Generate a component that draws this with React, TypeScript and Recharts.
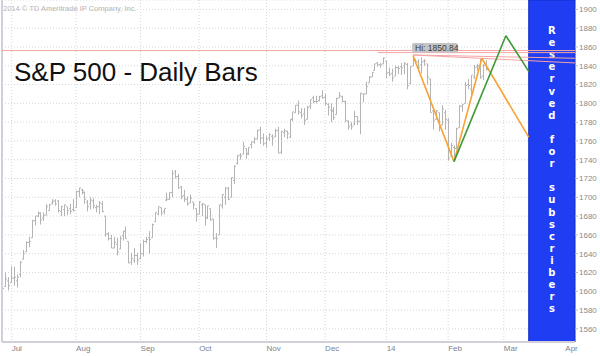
import {
  ComposedChart,
  Bar,
  XAxis,
  YAxis,
  CartesianGrid,
  ReferenceLine,
  ReferenceArea,
  ReferenceDot,
} from "recharts";

// daily sessions, first bar = 2013-06-26 (session index -3); session 0 = 2013-07-01
const firstSession = -3;

const opens = [
  1592, 1605, 1611,
  // Jul
  1609, 1614, 1611, 1618, 1634, 1642, 1652, 1657, 1675, 1680, 1683, 1678, 1681, 1686, 1694, 1696, 1696, 1685, 1687, 1690, 1688, 1687,
  // Aug
  1689, 1706, 1708, 1705, 1695, 1693, 1696, 1689, 1690, 1693, 1680, 1661, 1656, 1646, 1650, 1645, 1659, 1664, 1653, 1631, 1633, 1638,
  // Sep
  1635, 1640, 1653, 1657, 1657, 1674, 1682, 1689, 1685, 1697, 1698, 1705, 1727, 1722, 1711, 1702, 1698, 1694, 1695, 1688,
  // Oct
  1682, 1692, 1692, 1678, 1688, 1677, 1657, 1660, 1691, 1700, 1709, 1700, 1718, 1736, 1745, 1746, 1752, 1747, 1756, 1759, 1762, 1772, 1763,
  // Nov
  1758, 1763, 1765, 1765, 1771, 1748, 1769, 1770, 1764, 1783, 1790, 1798, 1790, 1789, 1783, 1797, 1806, 1802, 1803, 1808,
  // Dec
  1806, 1799, 1793, 1792, 1788, 1806, 1807, 1802, 1781, 1777, 1777, 1786, 1781, 1810, 1810, 1822, 1828, 1835, 1843, 1841, 1842,
  // Jan
  1845, 1833, 1832, 1829, 1838, 1839, 1840, 1841, 1821, 1840, 1847, 1844, 1841, 1845, 1842, 1826, 1792, 1783, 1790, 1777, 1790,
  // Feb
  1782, 1744, 1753, 1752, 1774, 1797, 1800, 1820, 1815, 1828, 1839, 1838, 1829, 1841,
];

const highs = [
  1605, 1620, 1615,
  1627, 1626, 1618, 1632, 1644, 1653, 1658, 1676, 1680, 1685, 1684, 1684, 1693, 1693, 1698, 1698, 1697, 1691, 1692, 1690, 1693, 1698,
  1707, 1710, 1709, 1706, 1697, 1700, 1699, 1692, 1696, 1696, 1680, 1663, 1660, 1658, 1657, 1659, 1664, 1669, 1653, 1641, 1646, 1641,
  1651, 1655, 1658, 1664, 1672, 1684, 1690, 1689, 1688, 1705, 1705, 1729, 1729, 1725, 1712, 1708, 1701, 1703, 1695, 1688,
  1696, 1694, 1692, 1691, 1688, 1677, 1662, 1692, 1703, 1711, 1711, 1721, 1734, 1745, 1747, 1759, 1752, 1753, 1759, 1764, 1772, 1775, 1768,
  1765, 1768, 1767, 1773, 1775, 1771, 1773, 1771, 1783, 1791, 1798, 1803, 1795, 1795, 1797, 1804, 1808, 1808, 1808, 1814,
  1810, 1800, 1800, 1796, 1806, 1812, 1808, 1803, 1782, 1780, 1792, 1786, 1811, 1810, 1823, 1829, 1833, 1842, 1844, 1843, 1849,
  1845, 1838, 1837, 1840, 1840, 1843, 1844, 1843, 1839, 1850.84, 1847, 1847, 1849, 1847, 1842, 1826, 1793, 1793, 1790, 1798, 1793,
  1784, 1758, 1755, 1774, 1798, 1799, 1823, 1826, 1830, 1841, 1842, 1847, 1842, 1846,
];

const lows = [
  1592, 1605, 1601,
  1609, 1606, 1604, 1615, 1634, 1642, 1647, 1657, 1670, 1679, 1671, 1675, 1681, 1686, 1692, 1691, 1684, 1680, 1680, 1681, 1682, 1685,
  1689, 1700, 1703, 1693, 1685, 1687, 1688, 1684, 1682, 1684, 1658, 1654, 1646, 1646, 1638, 1645, 1654, 1656, 1630, 1628, 1630, 1628,
  1634, 1637, 1651, 1640, 1657, 1674, 1681, 1681, 1682, 1696, 1697, 1700, 1720, 1709, 1698, 1695, 1691, 1694, 1687, 1674,
  1682, 1680, 1670, 1677, 1675, 1655, 1646, 1660, 1688, 1692, 1697, 1700, 1714, 1735, 1740, 1746, 1741, 1745, 1752, 1757, 1762, 1757, 1755,
  1753, 1760, 1755, 1764, 1747, 1746, 1764, 1762, 1763, 1781, 1790, 1788, 1784, 1777, 1783, 1794, 1800, 1800, 1802, 1805,
  1798, 1787, 1780, 1782, 1788, 1806, 1801, 1780, 1772, 1772, 1777, 1777, 1767, 1801, 1810, 1822, 1828, 1835, 1839, 1838, 1842,
  1827, 1829, 1823, 1829, 1831, 1830, 1831, 1815, 1821, 1840, 1842, 1835, 1832, 1840, 1820, 1790, 1772, 1783, 1770, 1777, 1772,
  1739, 1744, 1738, 1752, 1774, 1791, 1800, 1815, 1809, 1826, 1835, 1826, 1825, 1835,
];

const closes = [
  1603, 1613, 1606,
  1614, 1615, 1615, 1631, 1640, 1652, 1653, 1675, 1680, 1683, 1676, 1681, 1690, 1692, 1696, 1693, 1686, 1690, 1692, 1686, 1685, 1686,
  1706, 1710, 1707, 1698, 1690, 1697, 1691, 1690, 1694, 1685, 1661, 1656, 1646, 1652, 1642, 1656, 1664, 1656, 1630, 1635, 1638, 1633,
  1640, 1653, 1655, 1655, 1671, 1684, 1690, 1683, 1688, 1698, 1705, 1725, 1722, 1710, 1701, 1698, 1693, 1699, 1692, 1682,
  1695, 1693, 1678, 1691, 1676, 1656, 1656, 1692, 1703, 1710, 1698, 1721, 1733, 1744, 1744, 1754, 1746, 1753, 1759, 1762, 1771, 1763, 1757,
  1762, 1767, 1763, 1771, 1747, 1770, 1771, 1768, 1783, 1791, 1798, 1791, 1787, 1782, 1796, 1804, 1802, 1802, 1807, 1806,
  1800, 1796, 1792, 1785, 1805, 1808, 1802, 1782, 1775, 1775, 1786, 1781, 1811, 1810, 1818, 1828, 1833, 1842, 1841, 1841, 1848,
  1832, 1831, 1827, 1838, 1837, 1838, 1842, 1819, 1839, 1848, 1845, 1838, 1844, 1845, 1828, 1790, 1782, 1792, 1774, 1794, 1783,
  1742, 1755, 1752, 1773, 1797, 1799, 1819, 1819, 1830, 1838, 1840, 1828, 1840, 1836,
];

// first session of each month (trading-day axis)
const monthTicks = [0, 22, 44, 64, 87, 107, 128, 149, 168, 189];
const monthLabels = ["Jul", "Aug", "Sep", "Oct", "Nov", "Dec", "14", "Feb", "Mar", "Apr"];
const priceTicks = [1560, 1580, 1600, 1620, 1640, 1660, 1680, 1700, 1720, 1740, 1760, 1780, 1800, 1820, 1840, 1860, 1880, 1900];

const hiPoint = { x: 137, y: 1850.84 };
const orangePath = [
  { x: 137, y: 1850.84 },
  { x: 151, y: 1738 },
  { x: 160.5, y: 1848 },
  { x: 176.5, y: 1764 },
];
const greenPath = [
  { x: 151, y: 1738 },
  { x: 168.7, y: 1872 },
  { x: 176.5, y: 1834 },
];
const resistance = [
  [{ x: -3.3, y: 1856.2 }, { x: 192.3, y: 1856.2 }],
  [{ x: 125, y: 1854 }, { x: 192.3, y: 1854 }],
  [{ x: 137, y: 1851.5 }, { x: 192.3, y: 1848 }],
  [{ x: 137, y: 1851.5 }, { x: 192.3, y: 1843 }],
];
const reservedZone = { from: 176.5, to: 192.3 };
const reservedText = "Reserved for subscribers";

const bars = opens.map((open, i) => ({
  x: firstSession + i,
  range: [lows[i], highs[i]],
  open,
  close: closes[i],
}));

const toSegments = (path: { x: number; y: number }[]) =>
  path.slice(1).map((p, i) => [path[i], p]);

function OhlcBar(props: any) {
  const { x, y, width, height, payload } = props;
  if (!payload) return null;
  const cx = Math.round(x + width / 2) + 0.5;
  const top = Math.min(y, y + height);
  const bottom = Math.max(y, y + height);
  const [low, high] = payload.range;
  const span = high - low || 1;
  const yOpen = top + ((high - payload.open) / span) * (bottom - top);
  const yClose = top + ((high - payload.close) / span) * (bottom - top);
  return (
    <g stroke="#b4b4b4" strokeWidth={1}>
      <line x1={cx} x2={cx} y1={top} y2={bottom} />
      <line x1={cx - 1.5} x2={cx} y1={yOpen} y2={yOpen} />
      <line x1={cx} x2={cx + 1.5} y1={yClose} y2={yClose} />
    </g>
  );
}

function MonthTick(props: any) {
  const { x, payload } = props;
  const i = monthTicks.indexOf(payload.value);
  return (
    <text x={x} y={351} fontSize={8} fill="#7c8290" fontFamily="Liberation Sans, Arial, sans-serif">
      {monthLabels[i]}
    </text>
  );
}

function ReservedLabel(props: any) {
  const vb = props.viewBox;
  if (!vb) return null;
  const cx = vb.x + vb.width / 2;
  return (
    <text
      fill="#ffffff"
      fontSize={10}
      fontWeight="bold"
      fontFamily="DejaVu Sans, Verdana, sans-serif"
      textAnchor="middle"
      dominantBaseline="central"
    >
      {reservedText.split("").map((ch, i) => (
        <tspan key={i} x={cx} y={vb.y + 30 + i * 12.1}>
          {ch}
        </tspan>
      ))}
    </text>
  );
}

function HiBadge(props: any) {
  const vb = props.viewBox;
  if (!vb) return null;
  const x = vb.x ?? vb.cx;
  const y = vb.y ?? vb.cy;
  return (
    <g>
      <rect x={x - 1} y={y - 12.5} width={46} height={9.5} rx={2} fill="#c4c4c4" />
      <text x={x + 2} y={y - 4.6} fontSize={8.5} fill="#3a3a3a" fontFamily="Liberation Sans, Arial, sans-serif">
        Hi: {hiPoint.y.toFixed(2)}
      </text>
    </g>
  );
}

export default function App() {
  return (
    <div style={{ position: "absolute", left: 0, top: 0, width: 600, height: 356, background: "#fff", overflow: "hidden" }}>
      <ComposedChart width={600} height={356} data={bars} margin={{ top: 0, right: 0, bottom: 0, left: 2 }}>
        <CartesianGrid strokeDasharray="1 2" stroke="#d6d6d6" />
        <XAxis
          type="number"
          dataKey="x"
          domain={[-3.3, 192.3]}
          allowDataOverflow
          ticks={monthTicks}
          interval={0}
          height={14}
          tickLine={false}
          axisLine={{ stroke: "#cfd0da", strokeWidth: 2 }}
          tick={<MonthTick />}
        />
        <YAxis
          orientation="right"
          domain={[1546, 1910]}
          allowDataOverflow
          ticks={priceTicks}
          interval={0}
          width={25}
          axisLine={false}
          tickSize={3}
          tickMargin={1}
          tickLine={{ stroke: "#bbbbbb" }}
          tick={{ fontSize: 8, fill: "#8a8a8a", fontFamily: "Liberation Sans, Arial, sans-serif" }}
        />
        <ReferenceLine x={-3.3} stroke="#cfd0da" strokeWidth={2} />
        <Bar dataKey="range" barSize={2} shape={<OhlcBar />} isAnimationActive={false} />
        {resistance.map((seg, i) => (
          <ReferenceLine key={`r${i}`} segment={seg} stroke="#f4a4a4" strokeWidth={1} />
        ))}
        {toSegments(orangePath).map((seg, i) => (
          <ReferenceLine key={`o${i}`} segment={seg} stroke="#f7a232" strokeWidth={1.6} />
        ))}
        {toSegments(greenPath).map((seg, i) => (
          <ReferenceLine key={`g${i}`} segment={seg} stroke="#3d9a35" strokeWidth={1.6} />
        ))}
        <ReferenceDot x={hiPoint.x} y={hiPoint.y} r={0} label={<HiBadge />} />
        <ReferenceArea
          x1={reservedZone.from}
          x2={reservedZone.to}
          y1={1546}
          y2={1910}
          fill="#1f3df2"
          fillOpacity={1}
          stroke="#1530c8"
          label={<ReservedLabel />}
        />
      </ComposedChart>
      <svg width={600} height={356} style={{ position: "absolute", left: 0, top: 0, pointerEvents: "none" }}>
        <text x={3} y={11} fontSize={7.5} fill="#b8b8b8" fontFamily="Liberation Sans, Arial, sans-serif">
          2014 © TD Ameritrade IP Company, Inc.
        </text>
        <text x={14} y={81} fontSize={26} fill="#111" fontFamily="Liberation Sans, Arial, sans-serif">
          S&amp;P 500 - Daily Bars
        </text>
      </svg>
    </div>
  );
}
